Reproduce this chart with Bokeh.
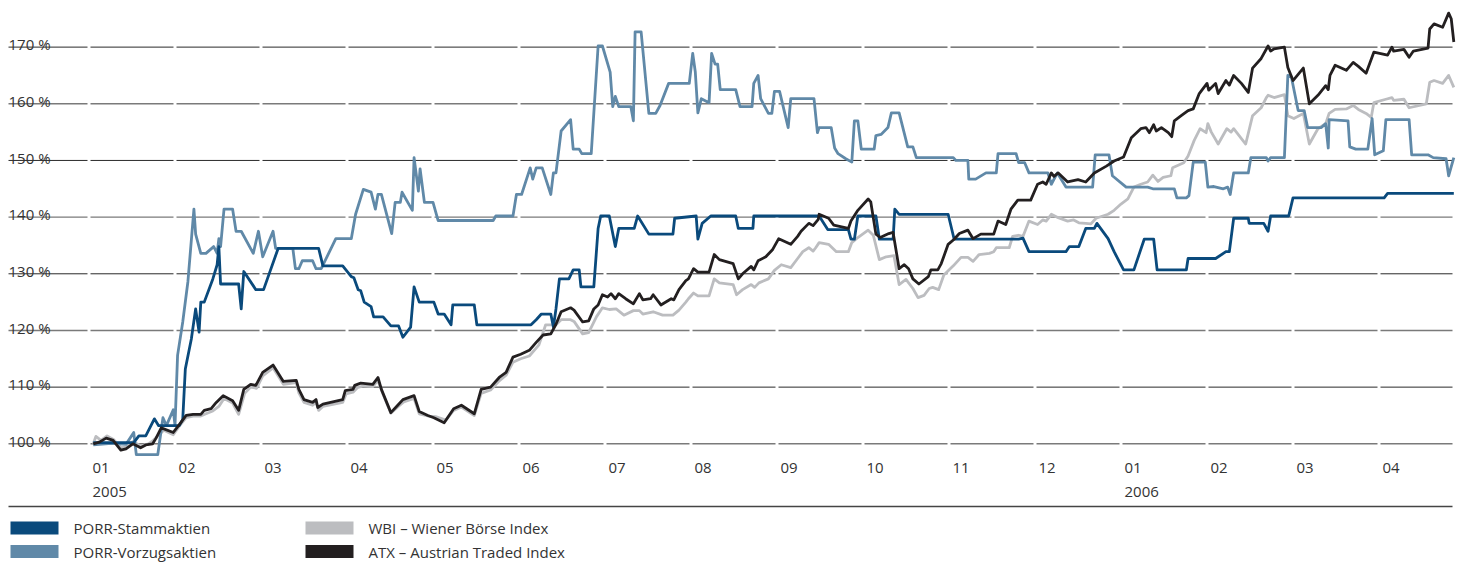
from bokeh.plotting import figure
from bokeh.models import Range1d
from bokeh.core.properties import value
from bokeh.embed import file_html
from bokeh.resources import INLINE

# ---- data: time in months since start of Jan 2005, value in % (start = 100 %)
month_labels = ["01", "02", "03", "04", "05", "06", "07", "08", "09", "10", "11", "12", "01", "02", "03", "04"]
year_labels = ["2005", "2006"]
year_months = [0, 12]
y_ticks = [100, 110, 120, 130, 140, 150, 160, 170]
y_tick_labels = ["100 %", "110 %", "120 %", "130 %", "140 %", "150 %", "160 %", "170 %"]
series_names = ["PORR-Stammaktien", "PORR-Vorzugsaktien", "WBI – Wiener Börse Index", "ATX – Austrian Traded Index"]

stamm = [(0.05,100.2),(0.52,100.2),(0.58,101.4),(0.66,101.4),(0.76,104.4),(0.81,103.2),(1.05,103.2),(1.09,104.3),(1.12,113.2),(1.19,118.5),
(1.24,123.8),(1.28,119.7),(1.30,125.0),(1.34,125.0),(1.44,129.1),(1.49,131.6),(1.51,134.8),(1.53,128.2),(1.74,128.2),(1.77,123.8),
(1.80,130.4),(1.94,127.2),(2.03,127.2),(2.20,134.5),(2.67,134.5),(2.72,131.4),(2.95,131.4),(3.05,129.5),(3.08,129.3),(3.13,127.2),
(3.16,127.0),(3.20,125.0),(3.28,124.2),(3.31,122.4),(3.42,122.4),(3.51,120.8),(3.60,120.8),(3.65,118.8),(3.74,120.6),(3.78,127.7),
(3.84,125.0),(4.01,125.0),(4.06,122.9),(4.13,122.9),(4.21,121.0),(4.23,124.5),(4.48,124.5),(4.51,121.0),(5.14,121.0),(5.20,121.9),
(5.26,122.9),(5.37,122.9),(5.40,120.6),(5.43,123.8),(5.47,129.1),(5.58,129.1),(5.63,130.7),(5.70,130.7),(5.72,127.7),(5.87,127.7),
(5.92,138.0),(5.95,140.2),(6.05,140.2),(6.12,134.8),(6.16,138.0),(6.34,138.0),(6.38,140.2),(6.51,137.0),(6.79,137.0),(6.81,139.8),
(7.06,140.2),(7.08,136.1),(7.13,138.9),(7.23,140.2),(7.52,140.2),(7.55,138.0),(7.72,138.0),(7.73,140.2),(8.49,140.2),(8.59,137.8),
(8.83,137.8),(8.86,136.1),(8.90,136.1),(8.94,140.2),(9.15,140.2),(9.19,136.1),(9.35,136.1),(9.37,141.4),(9.42,140.5),(9.99,140.5),
(10.06,136.1),(10.81,136.1),(10.86,136.3),(10.93,133.9),(11.36,133.9),(11.40,134.8),(11.51,134.8),(11.59,138.0),(11.69,138.0),(11.72,138.9),
(11.85,136.2),(11.92,133.9),(12.03,130.7),(12.15,130.7),(12.27,136.1),(12.38,136.1),(12.42,130.7),(12.76,130.7),(12.78,132.7),(13.10,132.7),
(13.22,133.9),(13.26,133.9),(13.31,139.8),(13.48,139.8),(13.49,138.9),(13.66,138.9),(13.71,137.5),(13.74,140.2),(13.95,140.2),(14.00,143.4),
(15.06,143.4),(15.10,144.2),(15.87,144.2)]

vorzug = [(0.05,99.8),(0.26,100.1),(0.43,99.9),(0.52,102.0),(0.55,98.1),(0.80,98.1),(0.86,104.6),(0.90,103.2),(0.98,106.0),(1.00,103.2),
(1.03,115.6),(1.09,121.5),(1.15,128.6),(1.22,141.4),(1.24,137.0),(1.30,133.6),(1.36,133.6),(1.45,134.8),(1.49,133.6),(1.51,136.2),
(1.53,134.8),(1.57,141.4),(1.67,141.4),(1.71,137.5),(1.77,137.5),(1.91,133.6),(1.97,137.5),(2.02,133.0),(2.14,137.5),(2.17,134.5),
(2.37,134.5),(2.40,130.9),(2.44,130.9),(2.48,132.3),(2.60,132.3),(2.64,130.9),(2.70,130.9),(2.87,136.2),(3.05,136.2),(3.10,140.5),
(3.19,144.9),(3.28,144.4),(3.33,141.4),(3.36,144.0),(3.40,144.0),(3.52,137.1),(3.56,142.6),(3.62,142.6),(3.64,144.4),(3.76,141.2),
(3.78,150.5),(3.83,144.6),(3.85,148.5),(3.90,142.6),(4.00,142.6),(4.06,139.4),(4.70,139.4),(4.73,140.2),(4.93,140.2),(4.97,144.0),
(5.03,144.0),(5.13,148.7),(5.16,146.7),(5.20,148.7),(5.27,148.7),(5.37,144.0),(5.40,147.8),(5.43,147.8),(5.49,155.2),(5.60,157.2),
(5.63,152.0),(5.70,152.0),(5.73,151.2),(5.84,151.2),(5.92,170.2),(5.97,170.2),(6.06,165.6),(6.09,159.5),(6.12,161.3),(6.16,159.5),
(6.30,159.5),(6.33,157.0),(6.35,172.7),(6.42,172.7),(6.51,158.3),(6.59,158.3),(6.64,159.7),(6.74,163.6),(6.98,163.6),(7.02,168.9),
(7.05,165.6),(7.08,158.4),(7.12,160.9),(7.21,160.2),(7.24,168.9),(7.28,167.0),(7.31,167.0),(7.34,162.5),(7.52,162.5),(7.57,159.5),
(7.71,159.5),(7.73,163.6),(7.78,165.0),(7.81,160.9),(7.90,158.3),(7.94,158.3),(7.97,162.2),(8.03,162.2),(8.13,155.8),(8.16,160.9),
(8.43,160.9),(8.47,154.9),(8.49,155.8),(8.63,155.8),(8.67,152.2),(8.71,151.2),(8.80,150.3),(8.87,149.7),(8.90,157.0),(8.94,157.0),
(8.98,152.0),(9.13,152.0),(9.15,154.4),(9.21,154.6),(9.29,155.8),(9.33,158.4),(9.42,158.4),(9.52,152.4),(9.58,152.4),(9.62,150.5),
(10.05,150.5),(10.08,150.0),(10.22,150.0),(10.23,146.7),(10.31,146.7),(10.43,147.8),(10.55,147.8),(10.57,151.2),(10.78,151.2),(10.81,149.6),
(10.88,149.6),(10.93,147.8),(11.15,147.8),(11.19,145.8),(11.26,147.8),(11.36,145.3),(11.67,145.3),(11.70,151.0),(11.86,151.0),(11.90,147.3),
(12.06,145.3),(12.31,145.3),(12.37,145.0),(12.62,145.0),(12.65,143.4),(12.76,143.4),(12.79,143.8),(12.84,149.7),(12.98,149.7),(13.01,145.3),
(13.08,145.4),(13.19,145.0),(13.24,145.3),(13.27,144.0),(13.31,147.8),(13.48,147.8),(13.51,150.5),(13.69,150.5),(13.71,149.9),(13.74,150.5),
(13.90,150.5),(13.94,165.0),(13.98,164.8),(14.06,158.8),(14.13,158.8),(14.17,155.8),(14.33,155.8),(14.38,156.5),(14.41,152.2),(14.42,157.2),
(14.64,157.0),(14.66,152.4),(14.73,152.0),(14.87,152.0),(14.92,157.4),(14.95,151.0),(15.05,151.7),(15.08,157.2),(15.35,157.2),(15.38,151.0),
(15.57,151.0),(15.63,150.5),(15.78,150.3),(15.81,147.3),(15.87,150.5)]

wbi = [(0.05,100.0),(0.08,101.3),(0.14,100.6),(0.21,101.4),(0.29,100.7),(0.37,99.3),(0.44,99.4),(0.51,100.4),(0.60,99.6),(0.69,100.0),
(0.74,100.5),(0.80,101.4),(0.87,102.4),(0.98,101.6),(1.05,103.1),(1.13,104.6),(1.21,104.9),(1.30,104.9),(1.36,105.3),(1.44,105.8),
(1.51,106.6),(1.57,108.0),(1.67,107.2),(1.74,105.2),(1.81,108.9),(1.88,110.0),(1.95,109.8),(2.02,112.0),(2.14,113.4),(2.26,110.5),
(2.41,110.8),(2.44,109.0),(2.50,107.3),(2.60,106.8),(2.64,107.3),(2.67,105.9),(2.72,106.6),(2.95,107.3),(2.99,108.8),(3.07,109.1),
(3.12,109.9),(3.19,110.2),(3.30,110.1),(3.36,111.2),(3.41,109.1),(3.51,105.4),(3.59,106.5),(3.66,107.4),(3.78,108.0),(3.84,105.3),
(3.95,104.9),(4.03,104.8),(4.15,104.2),(4.24,105.9),(4.33,106.5),(4.48,105.0),(4.56,108.9),(4.67,109.5),(4.77,111.1),(4.85,112.1),
(4.93,114.4),(5.02,115.0),(5.12,115.5),(5.23,117.4),(5.31,121.0),(5.43,121.0),(5.49,121.9),(5.60,121.9),(5.64,121.6),(5.74,119.4),
(5.81,119.6),(5.90,122.4),(5.97,124.0),(6.05,123.7),(6.13,123.8),(6.22,122.7),(6.33,123.5),(6.40,123.5),(6.44,122.9),(6.56,123.3),
(6.67,122.7),(6.79,122.7),(6.86,123.6),(6.94,125.0),(6.97,125.6),(7.03,126.6),(7.08,126.1),(7.21,126.1),(7.27,129.1),(7.33,128.4),
(7.49,128.1),(7.53,126.3),(7.60,127.2),(7.70,128.1),(7.74,127.6),(7.79,128.4),(7.90,129.1),(7.97,130.6),(8.05,131.6),(8.16,131.1),
(8.24,132.7),(8.30,133.9),(8.37,134.6),(8.42,134.0),(8.45,134.6),(8.49,135.5),(8.60,135.2),(8.69,133.9),(8.83,133.9),(8.87,135.5),
(8.94,136.4),(9.06,137.7),(9.12,136.8),(9.19,132.5),(9.27,133.0),(9.36,133.2),(9.42,128.1),(9.50,129.0),(9.58,127.4),(9.64,125.8),
(9.71,126.2),(9.77,127.4),(9.81,127.6),(9.88,127.2),(9.94,129.8),(10.05,131.4),(10.14,132.9),(10.22,132.9),(10.28,132.2),(10.35,133.4),
(10.47,133.6),(10.52,133.9),(10.55,134.6),(10.70,134.6),(10.74,136.6),(10.81,136.8),(10.86,136.6),(10.93,139.3),(11.03,138.7),(11.09,139.5),
(11.13,139.3),(11.19,140.5),(11.27,139.9),(11.38,139.3),(11.45,139.5),(11.51,139.0),(11.59,138.9),(11.65,138.8),(11.71,139.8),(11.85,140.5),
(11.92,141.2),(12.00,142.3),(12.08,143.2),(12.15,145.3),(12.23,145.8),(12.31,146.2),(12.37,147.4),(12.43,146.3),(12.49,147.0),(12.58,147.3),
(12.60,148.7),(12.73,149.6),(12.78,150.8),(12.85,153.5),(12.92,155.6),(12.99,154.9),(13.01,156.5),(13.05,155.0),(13.13,152.9),(13.23,155.6),
(13.28,155.0),(13.31,155.6),(13.45,152.9),(13.53,157.9),(13.63,159.3),(13.69,161.1),(13.71,161.5),(13.78,161.1),(13.90,161.6),(13.94,157.9),
(14.01,157.4),(14.12,158.3),(14.19,152.9),(14.29,155.6),(14.38,156.5),(14.42,158.3),(14.49,159.0),(14.62,159.1),(14.70,159.7),(14.76,159.0),
(14.85,158.3),(14.91,157.6),(14.94,160.2),(15.08,160.8),(15.15,161.1),(15.17,160.6),(15.29,160.8),(15.35,159.3),(15.55,160.0),(15.59,163.8),
(15.64,164.1),(15.74,163.6),(15.81,165.0),(15.87,162.9)]

atx = [(0.05,100.0),(0.12,100.3),(0.20,101.0),(0.28,100.6),(0.37,98.9),(0.43,99.1),(0.51,100.0),(0.60,99.3),(0.66,99.8),(0.74,100.0),
(0.78,101.0),(0.84,102.8),(0.98,102.0),(1.05,103.4),(1.13,105.0),(1.21,105.2),(1.30,105.2),(1.34,105.9),(1.42,106.2),(1.48,107.3),
(1.56,108.5),(1.67,107.6),(1.74,105.9),(1.80,109.6),(1.88,110.5),(1.94,110.3),(2.02,112.6),(2.14,113.9),(2.26,111.0),(2.41,111.2),
(2.44,109.6),(2.50,107.8),(2.60,107.3),(2.64,107.8),(2.66,106.4),(2.72,107.0),(2.95,107.8),(2.98,109.4),(3.07,109.6),(3.09,110.3),
(3.16,110.7),(3.30,110.5),(3.36,111.7),(3.40,109.6),(3.51,105.5),(3.59,106.8),(3.65,107.8),(3.78,108.5),(3.84,105.7),(3.94,105.0),
(4.01,104.6),(4.13,103.7),(4.24,106.2),(4.33,106.8),(4.48,105.3),(4.56,109.6),(4.67,110.0),(4.77,111.7),(4.85,112.6),(4.93,115.3),
(5.02,115.8),(5.12,116.5),(5.20,117.9),(5.28,119.2),(5.37,119.4),(5.43,121.1),(5.49,123.3),(5.60,124.0),(5.64,123.6),(5.74,121.5),
(5.81,121.7),(5.87,123.8),(5.92,124.5),(5.97,126.3),(6.03,125.9),(6.07,126.5),(6.12,125.6),(6.16,126.5),(6.24,125.6),(6.33,124.7),
(6.40,126.5),(6.44,125.4),(6.53,125.6),(6.56,126.3),(6.65,124.5),(6.77,125.6),(6.80,125.4),(6.86,127.2),(6.94,128.8),(6.97,129.1),
(7.03,130.9),(7.08,130.3),(7.21,130.3),(7.27,133.4),(7.33,132.5),(7.49,131.8),(7.55,129.1),(7.60,130.0),(7.70,131.3),(7.73,130.7),
(7.78,132.3),(7.87,133.0),(7.95,134.3),(8.02,136.2),(8.16,135.2),(8.24,136.6),(8.28,137.5),(8.37,138.9),(8.42,138.5),(8.48,139.6),
(8.49,140.5),(8.60,139.8),(8.66,138.6),(8.83,138.0),(8.86,139.3),(8.94,141.2),(9.06,143.2),(9.09,142.7),(9.15,137.0),(9.20,136.4),
(9.30,137.1),(9.35,137.3),(9.42,130.9),(9.48,131.6),(9.53,130.9),(9.58,129.1),(9.65,128.2),(9.76,129.5),(9.79,130.7),(9.87,130.7),
(9.91,131.8),(9.99,135.2),(10.06,136.1),(10.12,137.1),(10.22,137.7),(10.28,136.2),(10.37,137.0),(10.52,137.0),(10.57,139.3),(10.66,138.7),
(10.72,141.4),(10.80,143.0),(10.95,143.0),(11.03,145.8),(11.09,146.2),(11.13,145.8),(11.19,147.8),(11.22,147.2),(11.27,147.8),(11.38,146.2),
(11.50,146.6),(11.59,146.2),(11.69,147.8),(11.83,149.0),(11.92,149.9),(12.03,150.6),(12.12,154.0),(12.23,155.6),(12.29,155.8),(12.33,154.9),
(12.38,156.3),(12.41,155.2),(12.47,155.8),(12.55,154.9),(12.59,154.2),(12.62,157.0),(12.70,157.9),(12.78,158.8),(12.84,159.1),(12.91,161.8),
(13.00,163.6),(13.02,162.4),(13.10,163.6),(13.13,161.8),(13.22,164.1),(13.26,163.3),(13.31,165.0),(13.40,163.6),(13.48,162.0),(13.53,166.3),
(13.63,168.0),(13.71,170.2),(13.74,169.3),(13.78,169.7),(13.90,170.0),(13.94,166.4),(14.00,164.1),(14.12,166.3),(14.19,160.0),(14.29,161.5),
(14.38,163.2),(14.41,162.5),(14.43,165.0),(14.49,166.8),(14.62,165.9),(14.70,167.3),(14.76,166.6),(14.85,165.4),(14.94,169.1),(15.10,168.6),
(15.15,170.0),(15.17,169.3),(15.29,169.6),(15.35,168.2),(15.40,169.3),(15.57,169.8),(15.59,173.2),(15.64,174.1),(15.74,173.5),(15.81,176.0),
(15.84,175.0),(15.87,170.9)]

# ---- styles / layout
W, H = 1459, 562
PX_PER_MONTH = 86.0
X0_PX = 88.5          # pixel of start of Jan 2005
Y100_PX = 443.3       # pixel of 100 %
PX_PER_PCT = 5.667
FONT = value("Open Sans")
TXT = "#333333"
C_STAMM, C_VORZ, C_WBI, C_ATX = "#0a4a7c", "#6089a8", "#bcbdc0", "#231f20"


def px_x(px):
    return (px - X0_PX) / PX_PER_MONTH


def px_y(py):
    return 100 + (Y100_PX - py) / PX_PER_PCT


p = figure(width=W, height=H, output_backend="svg", toolbar_location=None,
           x_range=Range1d(px_x(0), px_x(W)), y_range=Range1d(px_y(H), px_y(0)),
           x_axis_location=None, y_axis_location=None, min_border=0)
p.outline_line_color = None
p.xgrid.visible = False
p.ygrid.visible = False
p.background_fill_color = "white"
p.border_fill_color = "white"

# gridlines, broken at every month boundary
n_months = len(month_labels)
gap = 1.5 / PX_PER_MONTH
left_edge, right_edge = px_x(8), px_x(1452)
for i, yv in enumerate(y_ticks):
    x0s, x1s = [left_edge], [0 - gap]
    for k in range(n_months):
        x0s.append(k + gap)
        x1s.append(min(k + 1 - gap, right_edge))
    dark = (i % 2 == 1)
    p.segment(x0=x0s, y0=[yv] * len(x0s), x1=x1s, y1=[yv] * len(x0s),
              line_color="#2a2a2a" if dark else "#7a7a7a", line_width=1 if dark else 1.4)

# y labels sitting on the gridlines
p.text(x=[px_x(8)] * len(y_ticks), y=[v + 2.8 / PX_PER_PCT for v in y_ticks], text=y_tick_labels,
       text_font=FONT, text_font_size="15px", text_color=TXT, text_baseline="alphabetic", text_align="left")

# month and year labels
p.text(x=[k + 3.5 / PX_PER_MONTH for k in range(n_months)], y=[px_y(467)] * n_months, text=month_labels,
       text_font=FONT, text_font_size="15px", text_color=TXT, text_baseline="middle", text_align="left")
p.text(x=[m + 3.5 / PX_PER_MONTH for m in year_months], y=[px_y(491)] * len(year_months), text=year_labels,
       text_font=FONT, text_font_size="15px", text_color=TXT, text_baseline="middle", text_align="left")

# separator line
p.segment(x0=[px_x(8)], y0=[px_y(506)], x1=[px_x(1452)], y1=[px_y(506)], line_color="#444444", line_width=1.5)

# data lines
for data, col in [(wbi, C_WBI), (vorzug, C_VORZ), (stamm, C_STAMM), (atx, C_ATX)]:
    xs = [t for t, _ in data]
    ys = [v for _, v in data]
    p.line(xs, ys, line_color=col, line_width=2.8, line_join="round")

# legend
leg = [(series_names[0], C_STAMM, 10, 527.5), (series_names[1], C_VORZ, 10, 551),
       (series_names[2], C_WBI, 305, 527.5), (series_names[3], C_ATX, 305, 551)]
for name, col, lx, cy in leg:
    p.quad(left=[px_x(lx)], right=[px_x(lx + 48)], top=[px_y(cy - 6.5)], bottom=[px_y(cy + 6.5)],
           fill_color=col, line_color=None)
    p.text(x=[px_x(lx + 63)], y=[px_y(cy)], text=[name], text_font=FONT, text_font_size="15px",
           text_color=TXT, text_baseline="middle", text_align="left")

open("out.html", "w").write(file_html(p, INLINE))
